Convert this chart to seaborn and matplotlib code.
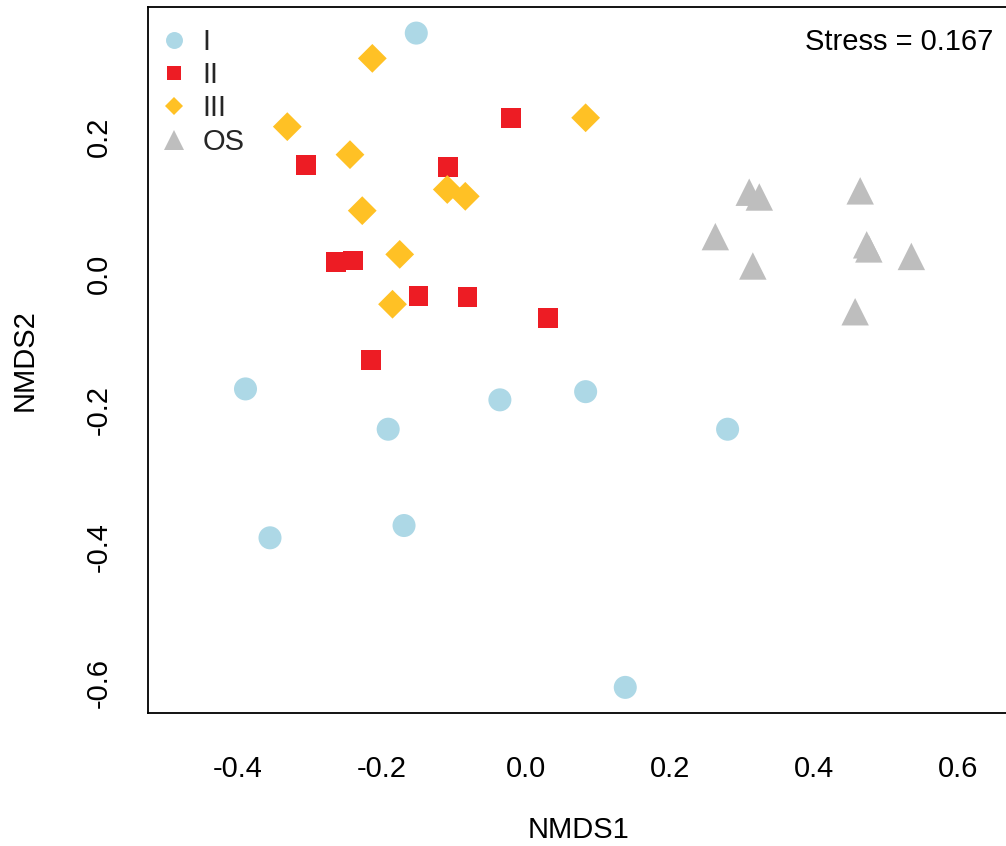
import matplotlib
matplotlib.use("Agg")
import matplotlib.pyplot as plt
from matplotlib.lines import Line2D
import seaborn as sns
import pandas as pd

# ---- data (NMDS scores) ----
groups = ["I", "II", "III", "OS"]

I_x = [-0.152, -0.389, -0.191, -0.036, 0.083, 0.280, -0.169, -0.355, 0.138]
I_y = [0.352, -0.169, -0.228, -0.185, -0.173, -0.228, -0.369, -0.387, -0.606]

II_x = [-0.021, -0.305, -0.108, -0.264, -0.240, -0.149, -0.081, 0.031, -0.215]
II_y = [0.228, 0.159, 0.156, 0.017, 0.019, -0.033, -0.034, -0.065, -0.127]

III_x = [-0.213, -0.331, 0.083, -0.244, -0.109, -0.084, -0.227, -0.175, -0.185]
III_y = [0.315, 0.215, 0.228, 0.174, 0.123, 0.113, 0.092, 0.028, -0.045]

OS_x = [0.310, 0.324, 0.464, 0.263, 0.315, 0.473, 0.476, 0.535, 0.457]
OS_y = [0.119, 0.112, 0.121, 0.054, 0.011, 0.042, 0.036, 0.025, -0.056]

x_ticks = [-0.4, -0.2, 0.0, 0.2, 0.4, 0.6]
y_ticks = [-0.6, -0.4, -0.2, 0.0, 0.2]
stress_text = "Stress = 0.167"
x_label = "NMDS1"
y_label = "NMDS2"

# ---- styling ----
colors = {"I": "#ADD8E6", "II": "#ED1C24", "III": "#FFC125", "OS": "#BEBEBE"}
markers = {"I": "o", "II": "s", "III": "D", "OS": "^"}
sizes = {"I": 275, "II": 205, "III": 215, "OS": 390}
leg_ms = {"I": 12.2, "II": 9.4, "III": 8.7, "OS": 14.0}

df = pd.concat([
    pd.DataFrame({"NMDS1": I_x, "NMDS2": I_y, "group": "I"}),
    pd.DataFrame({"NMDS1": II_x, "NMDS2": II_y, "group": "II"}),
    pd.DataFrame({"NMDS1": III_x, "NMDS2": III_y, "group": "III"}),
    pd.DataFrame({"NMDS1": OS_x, "NMDS2": OS_y, "group": "OS"}),
], ignore_index=True)

sns.set_theme(style="white")
plt.rcParams["font.family"] = ["Liberation Sans", "DejaVu Sans"]
FS = 21

fig = plt.figure(figsize=(10.06, 8.46), dpi=100)
W, H = 1006, 846
left, right, top, bottom = 148, 1009, 7, 713
ax = fig.add_axes([left / W, (H - bottom) / H, (right - left) / W, (bottom - top) / H])

sns.scatterplot(data=df, x="NMDS1", y="NMDS2", hue="group", style="group",
                size="group", sizes=sizes, hue_order=groups, style_order=groups,
                size_order=groups, palette=colors, markers=markers,
                linewidth=0, edgecolor="none", alpha=1, legend=False, ax=ax)

ax.set_xlim(-0.5243, 0.6705)
ax.set_ylim(-0.6435, 0.3902)
ax.set_xticks(x_ticks)
ax.set_yticks(y_ticks)
ax.set_xticklabels([f"{v:.1f}" for v in x_ticks], fontsize=FS)
ax.set_yticklabels([f"{v:.1f}" for v in y_ticks], fontsize=FS)
for lab in ax.get_yticklabels():
    lab.set_rotation(90)
    lab.set_va("center")
    lab.set_ha("right")

for sp in ax.spines.values():
    sp.set_visible(True)
    sp.set_color("black")
    sp.set_linewidth(1.3)

ax.tick_params(axis="both", direction="out", length=12.5, width=1.1,
               color="black", labelcolor="black")
ax.tick_params(axis="x", pad=18)
ax.tick_params(axis="y", pad=13)
ax.grid(False)

ax.set_xlabel(x_label, fontsize=FS, color="black", va="center")
ax.set_ylabel(y_label, fontsize=FS, color="black", va="center")
ax.xaxis.set_label_coords(0.5, (bottom - 830) / (bottom - top))
ax.yaxis.set_label_coords((25 - left) / (right - left), 0.5)

ax.text((993 - left) / (right - left), (bottom - 42) / (bottom - top), stress_text,
        transform=ax.transAxes, ha="right", va="center", fontsize=FS, color="black")

handles = [Line2D([0], [0], marker=markers[g], linestyle="none", color=colors[g],
                  markersize=leg_ms[g], markeredgewidth=0) for g in groups]
leg = ax.legend(handles, groups, loc="upper left",
                bbox_to_anchor=((159.4 - left) / (right - left), (bottom - 28) / (bottom - top)),
                frameon=False, fontsize=FS, borderpad=0, borderaxespad=0,
                handlelength=1.0, handletextpad=0.47, labelspacing=0.18)

fig.savefig("out.png", dpi=100)
